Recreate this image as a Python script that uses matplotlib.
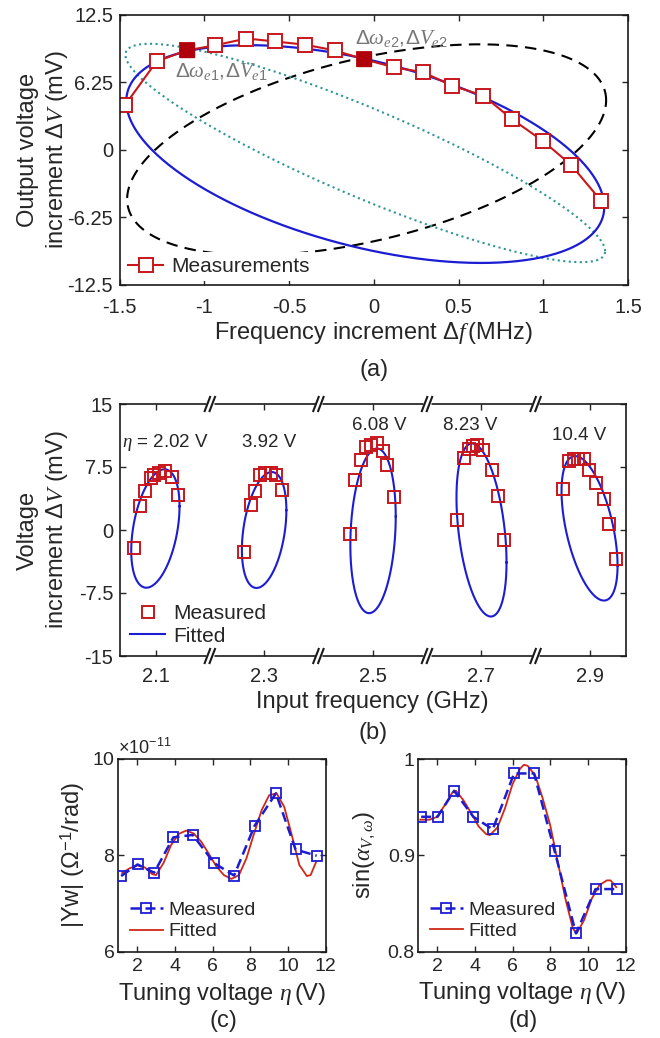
import numpy as np
import matplotlib.pyplot as plt

# ---------------- (a) one ellipse in detail ----------------
freq_a = [-1.468, -1.281, -1.102, -0.938, -0.751, -0.585, -0.403, -0.231, -0.057,
          0.119, 0.291, 0.463, 0.647, 0.813, 0.998, 1.164, 1.343]
volt_a = [4.13, 8.2, 9.22, 9.68, 10.32, 10.05, 9.74, 9.22, 8.39,
          7.65, 7.19, 5.94, 5.02, 2.87, 0.81, -1.4, -4.77]
freq_e = [-1.102, -0.057]
volt_e = [9.22, 8.39]
# ellipse parameters: centre f, centre V, half width, half height, phase (deg)
ell_fit_a = [-0.05, -0.4, 1.41, 10.1, 119]
ell_e1 = [-0.05, -0.3, 1.415, 10.13, 154]
ell_e2 = [-0.042, 0.0, 1.413, 9.78, 62]
xticks_a = [-1.5, -1, -0.5, 0, 0.5, 1, 1.5]
xticklabels_a = ['-1.5', '-1', '-0.5', '0', '0.5', '1', '1.5']
yticks_a = [-12.5, -6.25, 0, 6.25, 12.5]
yticklabels_a = ['-12.5', '-6.25', '0', '6.25', '12.5']

# ---------------- (b) ellipses at five tuning voltages ----------------
eta_b = ['2.02', '3.92', '6.08', '8.23', '10.4']
freq_b = [
    [2.060, 2.072, 2.081, 2.091, 2.098, 2.106, 2.117, 2.131, 2.141],
    [2.263, 2.275, 2.283, 2.292, 2.301, 2.313, 2.321, 2.332],
    [2.459, 2.467, 2.478, 2.487, 2.497, 2.507, 2.519, 2.527, 2.540],
    [2.655, 2.668, 2.677, 2.685, 2.692, 2.704, 2.719, 2.730, 2.742],
    [2.850, 2.862, 2.871, 2.879, 2.889, 2.899, 2.911, 2.926, 2.936, 2.949],
]
volt_b = [
    [-2.2, 2.9, 4.7, 6.2, 6.5, 6.8, 7.0, 6.3, 4.2],
    [-2.65, 3.0, 4.7, 6.5, 6.8, 6.8, 6.6, 4.8],
    [-0.47, 6.0, 8.3, 9.9, 10.1, 10.4, 9.4, 7.7, 3.95],
    [1.2, 8.6, 9.7, 10.0, 10.1, 9.5, 7.1, 4.1, -1.2],
    [4.9, 8.2, 8.5, 8.5, 8.4, 7.1, 5.6, 3.7, 0.7, -3.4],
]
ell_fit_b = [
    [2.0997, 0.18, 0.0445, 7.05, 68],
    [2.300, 0.0, 0.041, 6.9, 70],
    [2.5006, -0.1, 0.0418, 9.8, 80],
    [2.7004, 0.0, 0.0461, 10.3, 112],
    [2.8994, 0.2, 0.0516, 8.6, 121],
]
label_x_b = [2.118, 2.310, 2.512, 2.680, 2.880]
label_y_b = [10.4, 10.4, 12.4, 12.4, 11.2]
xticks_b = [2.1, 2.3, 2.5, 2.7, 2.9]
breaks_b = [2.2, 2.4, 2.6, 2.8]
yticks_b = [-15, -7.5, 0, 7.5, 15]
yticklabels_b = ['-15', '-7.5', '0', '7.5', '15']

# ---------------- (c), (d) versus tuning voltage ----------------
eta_cd = [1.15, 2.02, 2.9, 3.92, 4.95, 6.08, 7.14, 8.23, 9.36, 10.4, 11.52]
yw_meas = [7.57, 7.81, 7.64, 8.37, 8.42, 7.84, 7.58, 8.61, 9.28, 8.12, 7.99]
sin_meas = [0.940, 0.940, 0.967, 0.940, 0.927, 0.985, 0.985, 0.9045, 0.819, 0.865, 0.865]
eta_fit_c = [1.2, 1.6, 2.0, 2.4, 2.8, 3.0, 3.4, 3.8, 4.2, 4.6, 5.0, 5.4, 5.8, 6.2,
             6.6, 7.0, 7.4, 7.8, 8.2, 8.6, 9.0, 9.4, 9.8, 10.2, 10.6, 11.0, 11.2, 11.5]
yw_fit = [7.63, 7.73, 7.79, 7.75, 7.61, 7.59, 7.84, 8.21, 8.44, 8.51, 8.45, 8.28, 8.03, 7.77,
          7.59, 7.51, 7.59, 7.94, 8.45, 8.93, 9.24, 9.28, 9.00, 8.42, 7.80, 7.57, 7.59, 7.87]
eta_fit_d = [1.1, 1.6, 2.0, 2.4, 2.8, 3.0, 3.4, 3.8, 4.2, 4.6, 4.8, 5.2, 5.6, 6.0, 6.4,
             6.6, 6.8, 7.2, 7.6, 8.0, 8.4, 8.8, 9.2, 9.4, 9.8, 10.2, 10.6, 11.0, 11.2, 11.5]
sin_fit = [0.937, 0.937, 0.940, 0.952, 0.965, 0.967, 0.957, 0.944, 0.930, 0.922, 0.921,
           0.929, 0.949, 0.974, 0.990, 0.994, 0.993, 0.983, 0.959, 0.931, 0.893, 0.855,
           0.824, 0.819, 0.833, 0.855, 0.869, 0.874, 0.874, 0.867]

RED = '#c8161d'
BLUE = '#1c1cd2'
TXT = '#262626'
LAB = 17

plt.rcParams['font.family'] = ['Liberation Sans', 'DejaVu Sans']
plt.rcParams['mathtext.fontset'] = 'custom'
plt.rcParams['mathtext.rm'] = 'Liberation Sans'
plt.rcParams['mathtext.it'] = 'Liberation Serif:italic'
plt.rcParams['mathtext.bf'] = 'Liberation Sans:bold'
plt.rcParams['axes.unicode_minus'] = False
plt.rcParams['text.color'] = TXT
plt.rcParams['axes.labelcolor'] = TXT
plt.rcParams['xtick.color'] = TXT
plt.rcParams['ytick.color'] = TXT
plt.rcParams['axes.linewidth'] = 1.2


def ellipse(p, n=400):
    t = np.linspace(0, 2 * np.pi, n)
    return p[0] + p[2] * np.cos(t), p[1] + p[3] * np.cos(t - np.radians(p[4]))


def style(ax, xpad, ypad, size=14.5):
    ax.tick_params(direction='in', top=True, right=True, length=4, width=1,
                   labelsize=size, colors=TXT)
    ax.tick_params(axis='x', pad=xpad)
    ax.tick_params(axis='y', pad=ypad)
    for s in ax.spines.values():
        s.set_color('#1a1a1a')


W, H = 660, 1038


def box(l, t, r, b):
    return [l / W, 1 - b / H, (r - l) / W, (b - t) / H]


fig = plt.figure(figsize=(6.6, 10.38), dpi=100)
ax_a = fig.add_axes(box(119.5, 15, 628, 284.5))
ax_b = fig.add_axes(box(119.5, 404, 625.7, 656))
ax_c = fig.add_axes(box(118.3, 758.5, 325.7, 952))
ax_d = fig.add_axes(box(418.3, 759, 625.7, 951.7))

# ---- (a)
x, y = ellipse(ell_e2)
ax_a.plot(x, y, color='black', lw=1.5, dashes=(5.5, 3.5))
x, y = ellipse(ell_e1)
ax_a.plot(x, y, color='#2f9595', lw=1.5, ls=':')
x, y = ellipse(ell_fit_a)
ax_a.plot(x, y, color=BLUE, lw=1.6)
ax_a.plot(freq_a, volt_a, color=RED, lw=1.5, marker='s', ms=9.5, mfc='white',
          mec=RED, mew=1.4, label='Measurements')
ax_a.plot(freq_e, volt_e, ls='none', marker='s', ms=9.5, color='#b0000c')
ax_a.text(-1.175, 7.3, r'$\mathit{\Delta}\omega_{e1},\!\mathit{\Delta}V_{e1}$',
          color='#777777', fontsize=15, va='center', ha='left')
ax_a.text(-0.112, 10.3, r'$\mathit{\Delta}\omega_{e2},\!\mathit{\Delta}V_{e2}$',
          color='#777777', fontsize=15, va='center', ha='left')
ax_a.set_xlim(-1.5, 1.5)
ax_a.set_ylim(-12.5, 12.5)
ax_a.set_xticks(xticks_a)
ax_a.set_xticklabels(xticklabels_a)
ax_a.set_yticks(yticks_a)
ax_a.set_yticklabels(yticklabels_a)
style(ax_a, 10, 4.5)
ax_a.set_xlabel(r'Frequency increment $\Delta f\,$(MHz)', fontsize=LAB)
ax_a.set_ylabel('Output voltage\n' + r'increment $\Delta V$ (mV)', fontsize=LAB, linespacing=1.25)
ax_a.xaxis.set_label_coords(0.5, -0.13)
ax_a.yaxis.set_label_coords(-0.098, 0.5)
ax_a.legend(loc='lower left', fontsize=15, frameon=True, facecolor='white',
            edgecolor='none', framealpha=1, handlelength=1.7, handletextpad=0.4,
            borderpad=0.25, borderaxespad=0.15)

# ---- (b)
for i in range(len(eta_b)):
    x, y = ellipse(ell_fit_b[i])
    ax_b.plot(x, y, color=BLUE, lw=1.5, label='Fitted' if i == 0 else None, zorder=2)
    ax_b.plot(freq_b[i], volt_b[i], ls='none', marker='s', ms=8.5, mfc='none',
              mec=RED, mew=1.4, label='Measured' if i == 0 else None, zorder=3)
    txt = eta_b[i] + ' V'
    if i == 0:
        txt = r'$\eta$ = ' + txt
    ax_b.text(label_x_b[i], label_y_b[i], txt, fontsize=13.5, ha='center', va='center')
ax_b.set_xlim(2.0336, 2.966)
ax_b.set_ylim(-15, 15)
ax_b.set_xticks(xticks_b)
ax_b.set_xticklabels([str(v) for v in xticks_b])
ax_b.set_yticks(yticks_b)
ax_b.set_yticklabels(yticklabels_b)
style(ax_b, 8, 4.5)
tr = ax_b.get_xaxis_transform()
for xb in breaks_b:
    for y0 in (0, 1):
        ax_b.plot([xb - 0.007, xb + 0.007], [y0, y0], color='white', lw=3.5,
                  transform=tr, clip_on=False, zorder=5, solid_capstyle='butt')
        for dx in (-0.0045, 0.0045):
            ax_b.plot([xb + dx - 0.005, xb + dx + 0.005], [y0 - 0.028, y0 + 0.028],
                      color='#1a1a1a', lw=1.5, transform=tr, clip_on=False, zorder=6)
ax_b.set_xlabel('Input frequency (GHz)', fontsize=LAB)
ax_b.set_ylabel('Voltage\n' + r'increment $\Delta V$ (mV)', fontsize=LAB, linespacing=1.25)
ax_b.xaxis.set_label_coords(0.5, -0.14)
ax_b.yaxis.set_label_coords(-0.098, 0.5)
h, l = ax_b.get_legend_handles_labels()
ax_b.legend(h[::-1], l[::-1], loc='lower left', fontsize=15, frameon=False,
            handlelength=1.7, handletextpad=0.4, labelspacing=0.15,
            borderpad=0.2, borderaxespad=0.3)

# ---- (c)
ax_c.plot(eta_fit_c, np.array(yw_fit) * 1e-11, color='#d02818', lw=1.3, label='Fitted', zorder=2)
ax_c.plot(eta_cd, np.array(yw_meas) * 1e-11, color=BLUE, lw=1.8, dashes=(4, 2),
          marker='s', ms=7.5, mfc='none', mec=BLUE, mew=1.3, label='Measured', zorder=3)
ax_c.set_xlim(1, 12)
ax_c.set_ylim(6e-11, 10e-11)
ax_c.set_xticks([2, 4, 6, 8, 10, 12])
ax_c.set_yticks([6e-11, 8e-11, 10e-11])
ax_c.ticklabel_format(axis='y', style='sci', scilimits=(-11, -11), useMathText=True)
ax_c.yaxis.get_offset_text().set_fontsize(13)
style(ax_c, 4.5, 2.5, 14)
ax_c.set_xlabel(r'Tuning voltage $\eta\,$(V)', fontsize=LAB)
ax_c.set_ylabel(r'|Yw| ($\Omega^{-1}$/rad)', fontsize=LAB)
ax_c.xaxis.set_label_coords(0.5, -0.148)
ax_c.yaxis.set_label_coords(-0.15, 0.5)
h, l = ax_c.get_legend_handles_labels()
ax_c.legend(h[::-1], l[::-1], loc='lower left', fontsize=14, frameon=False,
            handlelength=1.7, handletextpad=0.3, labelspacing=0.2,
            borderpad=0.2, borderaxespad=0.4)

# ---- (d)
ax_d.plot(eta_fit_d, sin_fit, color='#d02818', lw=1.3, label='Fitted', zorder=2)
ax_d.plot(eta_cd, sin_meas, color=BLUE, lw=1.8, dashes=(4, 2),
          marker='s', ms=7.5, mfc='none', mec=BLUE, mew=1.3, label='Measured', zorder=3)
ax_d.set_xlim(1, 12)
ax_d.set_ylim(0.8, 1.0)
ax_d.set_xticks([2, 4, 6, 8, 10, 12])
ax_d.set_yticks([0.8, 0.9, 1.0])
ax_d.set_yticklabels(['0.8', '0.9', '1'])
style(ax_d, 4.5, 2.5, 14)
ax_d.set_xlabel(r'Tuning voltage $\eta\,$(V)', fontsize=LAB)
ax_d.set_ylabel(r'sin($\alpha_{V,\omega}$)', fontsize=LAB)
ax_d.xaxis.set_label_coords(0.5, -0.148)
ax_d.yaxis.set_label_coords(-0.195, 0.5)
h, l = ax_d.get_legend_handles_labels()
ax_d.legend(h[::-1], l[::-1], loc='lower left', fontsize=14, frameon=False,
            handlelength=1.7, handletextpad=0.3, labelspacing=0.2,
            borderpad=0.2, borderaxespad=0.4)

# panel letters
for lab, px, py in [('(a)', 374, 370), ('(b)', 372.6, 733), ('(c)', 223, 1021), ('(d)', 523, 1021)]:
    fig.text(px / W, 1 - py / H, lab, fontsize=LAB, ha='center', va='center')

fig.savefig('out.png', dpi=100, facecolor='white')
